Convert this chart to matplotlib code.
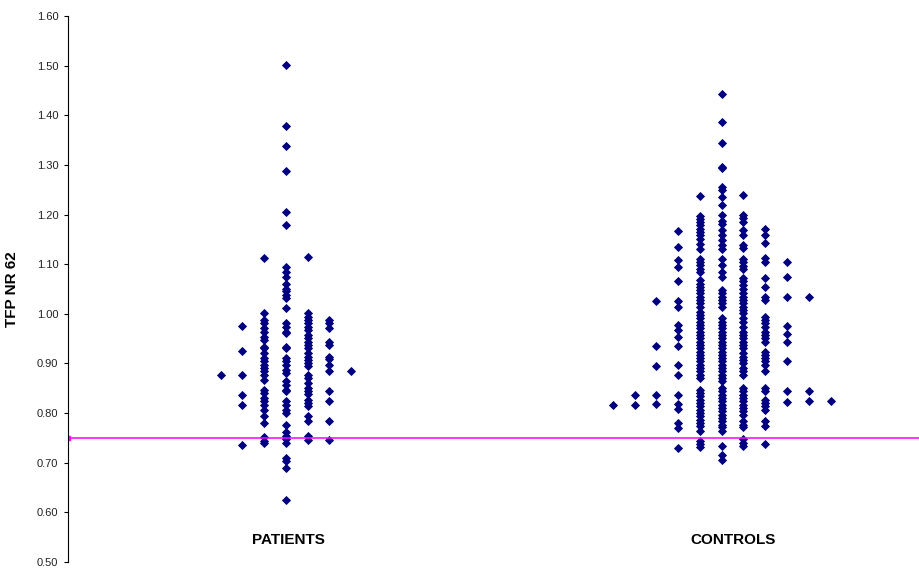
import matplotlib
matplotlib.use("Agg")
import matplotlib.pyplot as plt

plt.rcParams['font.family'] = ['Liberation Sans', 'DejaVu Sans']

# Valeurs, une liste par colonne de points (de gauche a droite)
groupes = ["PATIENTS", "CONTROLS"]
seuil = 0.75

# PATIENTS (7 colonnes)
pat_c1 = [0.877]
pat_c2 = [0.976, 0.926, 0.876, 0.837, 0.817, 0.736]
pat_c3 = [1.113, 1.001, 0.988, 0.981, 0.971, 0.964, 0.954, 0.947, 0.934, 0.931, 0.921,
          0.911, 0.904, 0.897, 0.891, 0.884, 0.877, 0.867, 0.847, 0.841, 0.831, 0.824,
          0.817, 0.807, 0.794, 0.781, 0.751, 0.744, 0.739]
pat_c4 = [1.501, 1.379, 1.339, 1.287, 1.205, 1.179, 1.095, 1.085, 1.075, 1.061, 1.051,
          1.045, 1.038, 1.031, 1.011, 0.981, 0.974, 0.964, 0.961, 0.934, 0.931, 0.911,
          0.904, 0.897, 0.887, 0.881, 0.864, 0.857, 0.847, 0.844, 0.824, 0.817, 0.807,
          0.801, 0.777, 0.761, 0.754, 0.747, 0.740, 0.710, 0.704, 0.690, 0.624]
pat_c5 = [1.115, 1.001, 0.994, 0.988, 0.981, 0.974, 0.968, 0.958, 0.951, 0.944, 0.938,
          0.931, 0.921, 0.914, 0.907, 0.901, 0.894, 0.877, 0.871, 0.861, 0.851, 0.844,
          0.838, 0.827, 0.821, 0.814, 0.794, 0.784, 0.754, 0.745]
pat_c6 = [0.988, 0.981, 0.971, 0.944, 0.938, 0.914, 0.908, 0.897, 0.884, 0.844, 0.824,
          0.784, 0.745]
pat_c7 = [0.884]
patients = [pat_c1, pat_c2, pat_c3, pat_c4, pat_c5, pat_c6, pat_c7]

# CONTROLS (11 colonnes)
con_c1 = [0.816]
con_c2 = [0.836, 0.816]
con_c3 = [1.025, 0.935, 0.895, 0.836, 0.819]
con_c4 = [1.166, 1.135, 1.108, 1.095, 1.066, 1.026, 1.014, 0.978, 0.968, 0.954, 0.936,
          0.897, 0.877, 0.837, 0.819, 0.809, 0.781, 0.769, 0.729]
con_c5 = [1.238, 1.198, 1.191, 1.185, 1.178, 1.171, 1.165, 1.158, 1.151, 1.141, 1.131,
          1.111, 1.105, 1.098, 1.091, 1.085, 1.068, 1.061, 1.055, 1.048, 1.041, 1.034,
          1.028, 1.021, 1.014, 1.004, 0.998, 0.991, 0.984, 0.978, 0.971, 0.964, 0.958,
          0.951, 0.944, 0.937, 0.931, 0.924, 0.917, 0.911, 0.904, 0.897, 0.891, 0.884,
          0.877, 0.871, 0.847, 0.841, 0.834, 0.827, 0.821, 0.814, 0.807, 0.801, 0.794,
          0.787, 0.781, 0.774, 0.764, 0.744, 0.737, 0.731]
con_c6 = [1.443, 1.386, 1.345, 1.295, 1.293, 1.255, 1.249, 1.235, 1.220, 1.200, 1.188,
          1.181, 1.168, 1.158, 1.148, 1.138, 1.131, 1.111, 1.098, 1.085, 1.075, 1.048,
          1.041, 1.034, 1.028, 1.021, 1.014, 0.991, 0.984, 0.978, 0.971, 0.964, 0.958,
          0.951, 0.944, 0.937, 0.931, 0.924, 0.917, 0.911, 0.904, 0.897, 0.891, 0.884,
          0.877, 0.871, 0.864, 0.851, 0.844, 0.837, 0.831, 0.824, 0.817, 0.811, 0.804,
          0.797, 0.791, 0.784, 0.777, 0.771, 0.764, 0.733, 0.715, 0.705]
con_c7 = [1.239, 1.199, 1.193, 1.185, 1.168, 1.158, 1.138, 1.133, 1.111, 1.105, 1.097,
          1.091, 1.073, 1.067, 1.059, 1.051, 1.041, 1.034, 1.028, 1.021, 1.014, 1.008,
          1.001, 0.991, 0.984, 0.974, 0.964, 0.958, 0.951, 0.944, 0.937, 0.931, 0.921,
          0.914, 0.907, 0.901, 0.891, 0.884, 0.877, 0.851, 0.844, 0.837, 0.831, 0.824,
          0.817, 0.811, 0.804, 0.797, 0.784, 0.777, 0.771, 0.747, 0.740, 0.734]
con_c8 = [1.171, 1.158, 1.143, 1.113, 1.105, 1.073, 1.055, 1.034, 1.028, 0.994, 0.988,
          0.981, 0.974, 0.964, 0.958, 0.951, 0.943, 0.924, 0.917, 0.911, 0.904, 0.897,
          0.884, 0.851, 0.844, 0.827, 0.821, 0.814, 0.807, 0.784, 0.774, 0.737]
con_c9 = [1.105, 1.075, 1.034, 0.976, 0.960, 0.943, 0.905, 0.844, 0.823]
con_c10 = [1.034, 0.845, 0.824]
con_c11 = [0.824]
controls = [con_c1, con_c2, con_c3, con_c4, con_c5, con_c6, con_c7, con_c8, con_c9,
            con_c10, con_c11]

# =============================================================================
# Graphique
# =============================================================================
fig = plt.figure(figsize=(9.2, 5.69), dpi=100)
ax = fig.add_axes([68 / 920, 7 / 569, 1 - 68 / 920, 546 / 569])

ecart = 0.05  # espacement entre colonnes de points
for centre, colonnes in [(1, patients), (2, controls)]:
    n = len(colonnes)
    for i, col in enumerate(colonnes):
        x = centre + (i - (n - 1) / 2) * ecart
        ax.plot([x] * len(col), col, linestyle="none", marker="D", markersize=3.6,
                color="#000080", markeredgewidth=0.6)

# Ligne seuil
ax.plot([0.5, 2.6], [seuil, seuil], color="#ff00ff", linewidth=1.1,
        marker="s", markersize=2.5, markevery=[0])

# Etiquettes des groupes
ax.text(1.005, 0.545, groupes[0], ha="center", va="center", fontsize=11, fontweight="bold")
ax.text(2.025, 0.545, groupes[1], ha="center", va="center", fontsize=11, fontweight="bold")

ax.set_xlim(0.5, 2.455)
ax.set_ylim(0.5, 1.6)
ax.set_yticks([0.5 + 0.1 * k for k in range(12)])
ax.set_yticklabels([f"{0.5 + 0.1 * k:.2f}" for k in range(12)], fontsize=8, color="#222222")
ax.set_xticks([])
ax.tick_params(axis="y", direction="out", length=3, width=0.8, pad=4)
for side in ["top", "right", "bottom"]:
    ax.spines[side].set_visible(False)
ax.spines["left"].set_linewidth(0.8)
ax.set_ylabel("TFP NR 62", fontsize=11, fontweight="bold", labelpad=12)
ax.yaxis.set_label_coords(-0.057, 0.5)

fig.savefig("out.png", dpi=100)
